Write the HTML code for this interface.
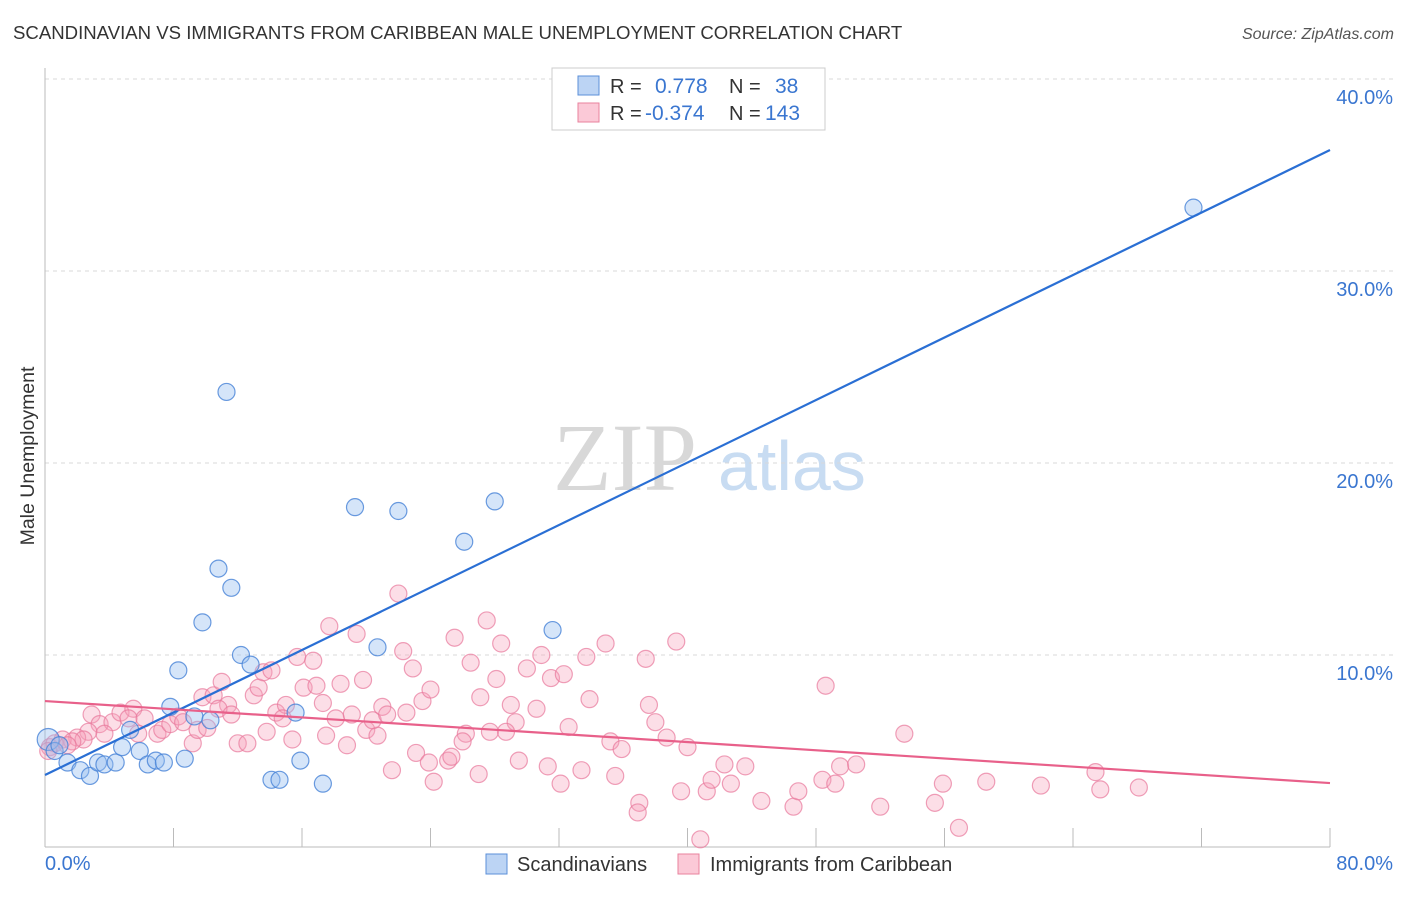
<!DOCTYPE html>
<html><head><meta charset="utf-8"><style>
body{margin:0;background:#fff;font-family:"Liberation Sans",sans-serif;}
svg text{font-family:"Liberation Sans",sans-serif;}
</style></head><body>
<svg id="chart" width="1406" height="892" xmlns="http://www.w3.org/2000/svg">
<text x="13" y="39" font-size="18.6" fill="#333">SCANDINAVIAN VS IMMIGRANTS FROM CARIBBEAN MALE UNEMPLOYMENT CORRELATION CHART</text>
<text x="1394" y="39" font-size="16" fill="#555" text-anchor="end" font-style="italic">Source: ZipAtlas.com</text>
<text x="553" y="490" font-size="96" fill="#d8d8d8" font-family="Liberation Serif" style="font-family:'Liberation Serif',serif">ZIP</text>
<text x="718" y="490" font-size="70" fill="#c8dcf2">atlas</text>
<g id="grid"></g>
<g id="axes"></g>
<g id="pts"></g>
<g id="lines"></g>
<text transform="translate(34,456) rotate(-90)" font-size="19.5" fill="#333" text-anchor="middle">Male Unemployment</text>
<g>
<rect x="552" y="68" width="273" height="62" fill="#fff" stroke="#ccc"/>
<rect x="578" y="76" width="21" height="19" fill="#bcd4f4" stroke="#5b8fd8"/>
<rect x="578" y="103" width="21" height="19" fill="#fbc9d7" stroke="#e8829e"/>
<text x="610" y="93" font-size="20" fill="#333">R = </text><text x="655" y="93" font-size="21" fill="#3a76d0">0.778</text>
<text x="729" y="93" font-size="20" fill="#333">N = </text><text x="775" y="93" font-size="21" fill="#3a76d0">38</text>
<text x="610" y="120" font-size="20" fill="#333">R = </text><text x="645" y="120" font-size="21" fill="#3a76d0">-0.374</text>
<text x="729" y="120" font-size="20" fill="#333">N = </text><text x="765" y="120" font-size="21" fill="#3a76d0">143</text>
</g>
<g><rect x="486" y="854" width="21" height="20" fill="#bcd4f4" stroke="#5b8fd8"/><text x="517" y="871" font-size="20" fill="#333">Scandinavians</text></g>
<g><rect x="678" y="854" width="21" height="20" fill="#fbc9d7" stroke="#e8829e"/><text x="710" y="871" font-size="20" fill="#333">Immigrants from Caribbean</text></g>
</svg>
<script>
const yTicks=[10,20,30,40];
const xTickLabels=["0.0%","80.0%"];
const blueX=[0.2,0.6,0.9,1.4,2.2,2.8,3.3,3.7,4.4,4.8,5.3,5.9,6.4,6.9,7.4,7.8,8.3,8.7,9.3,9.8,10.3,10.8,11.3,11.6,12.2,12.8,14.1,14.6,15.6,15.9,17.3,19.3,20.7,22.0,26.1,28.0,31.6,71.5];
const blueY=[5.6,5.0,5.3,4.4,4.0,3.7,4.4,4.3,4.4,5.2,6.1,5.0,4.3,4.5,4.4,7.3,9.2,4.6,6.8,11.7,6.6,14.5,23.7,13.5,10.0,9.5,3.5,3.5,7.0,4.5,3.3,17.7,10.4,17.5,15.9,18.0,11.3,33.3];
const pinkX=[2.9,3.4,4.2,4.7,5.5,5.2,6.2,3.7,2.7,2.0,1.1,2.4,1.7,0.3,5.8,7.0,7.3,7.8,8.3,8.6,9.2,9.5,10.1,9.8,10.5,11.0,11.4,10.8,11.6,12.0,12.6,13.0,13.3,13.6,14.1,13.8,14.4,15.0,14.8,15.4,15.7,16.7,16.1,16.9,17.3,17.5,17.7,18.1,18.4,18.8,19.1,19.4,19.8,20.0,20.7,20.4,21.0,21.3,22.3,22.9,22.5,23.5,24.0,23.1,21.6,23.9,24.2,25.1,22.0,27.5,25.5,28.4,26.5,30.9,30.0,28.1,31.5,32.3,33.7,34.9,37.4,39.3,27.1,29.0,30.6,33.9,37.6,29.3,38.0,27.7,28.7,26.2,26.0,32.6,35.2,35.9,38.7,40.0,25.3,29.5,27.0,31.3,32.1,33.4,35.5,37.0,36.9,39.6,40.8,41.2,41.5,42.3,42.7,43.6,44.6,46.6,46.9,48.4,49.2,49.5,50.5,48.6,52.0,53.5,55.4,55.9,56.9,58.6,62.0,65.4,65.7,68.1,0.6,1.4,0.2];
const pinkY=[6.9,6.4,6.5,7.0,7.2,6.7,6.7,5.9,6.0,5.7,5.6,5.6,5.5,5.2,5.9,5.9,6.1,6.4,6.8,6.5,5.4,6.1,6.2,7.8,7.9,8.6,7.4,7.2,6.9,5.4,5.4,7.9,8.3,9.1,9.2,6.0,7.0,7.4,6.7,5.6,9.9,9.7,8.3,8.4,7.5,5.8,11.5,6.7,8.5,5.3,6.9,11.1,8.7,6.1,5.8,6.6,7.3,6.9,10.2,9.3,7.0,7.6,8.2,4.9,4.0,4.4,3.4,4.5,13.2,11.8,10.9,10.6,9.6,10.0,9.3,8.75,8.8,9.0,9.9,10.6,9.8,10.7,7.8,7.4,7.2,7.7,7.4,6.5,6.5,6.0,6.0,5.9,5.5,6.25,5.5,5.1,5.7,5.2,4.7,4.5,3.8,4.2,3.3,4.0,3.7,2.3,1.8,2.9,0.4,2.9,3.5,4.3,3.3,4.2,2.4,2.1,2.9,3.5,3.3,4.2,4.3,8.4,2.1,5.9,2.3,3.3,1.0,3.4,3.2,3.9,3.0,3.1,5.4,5.3,5.0];
const blueFit=[3.75,36.3];
const pinkFit=[7.6,3.33];
const NS="http://www.w3.org/2000/svg";
const X0=45,X1=1330,Y0=847,PXY=19.2;
function sx(v){return X0+(X1-X0)*v/80;}
function sy(v){return Y0-v*PXY;}
function mk(tag,attrs,parent){const e=document.createElementNS(NS,tag);for(const k in attrs)e.setAttribute(k,attrs[k]);parent.appendChild(e);return e;}
const grid=document.getElementById('grid'),axes=document.getElementById('axes'),pts=document.getElementById('pts'),lines=document.getElementById('lines');
yTicks.forEach(t=>{
 const l=mk('line',{x1:45,x2:1393,y1:sy(t),y2:sy(t),stroke:'#d9d9d9','stroke-dasharray':'4,4'},grid);
 
 
 const tx=mk('text',{x:1393,y:sy(t)+25,'font-size':20,fill:'#3a76d0','text-anchor':'end'},grid);
 tx.textContent=t.toFixed(1)+'%';
 
 
});
const ax=mk('line',{x1:45,x2:45,y1:68,y2:847,stroke:'#bbb'},axes);


const bx=mk('line',{x1:45,x2:1330,y1:847,y2:847,stroke:'#bbb'},axes);


for(let i=1;i<=10;i++){const t=mk('line',{x1:sx(i*8),x2:sx(i*8),y1:828,y2:847,stroke:'#bbb'},axes);
 
 }
const xl0=mk('text',{x:45,y:870,'font-size':20,fill:'#3a76d0'},axes);xl0.textContent=xTickLabels[0];


const xl1=mk('text',{x:1393,y:870,'font-size':20,fill:'#3a76d0','text-anchor':'end'},axes);xl1.textContent=xTickLabels[1];


pinkX.forEach((v,i)=>{const c=mk('circle',{cx:sx(v),cy:sy(pinkY[i]),r:8.5,fill:'rgba(246,160,185,0.35)',stroke:'rgba(232,120,155,0.7)','stroke-width':1.2},pts);
 
 });
blueX.forEach((v,i)=>{const c=mk('circle',{cx:sx(v),cy:sy(blueY[i]),r:i==0?11:8.5,fill:'rgba(150,190,240,0.4)',stroke:'rgba(70,130,215,0.8)','stroke-width':1.2},pts);
 
 });
const bl=mk('line',{x1:sx(0),y1:sy(blueFit[0]),x2:sx(80),y2:sy(blueFit[1]),stroke:'#2a6fd4','stroke-width':2.2},lines);


const pl=mk('line',{x1:sx(0),y1:sy(pinkFit[0]),x2:sx(80),y2:sy(pinkFit[1]),stroke:'#e8608a','stroke-width':2.2},lines);


</script>
</body></html>
